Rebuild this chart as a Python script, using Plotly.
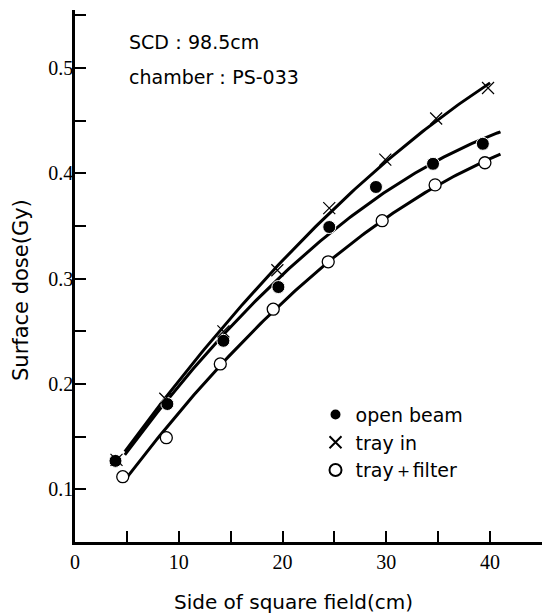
import numpy as np
import plotly.graph_objects as go

# Data
field_open = [3.9, 8.9, 14.3, 19.6, 24.5, 29.0, 34.5, 39.3]
dose_open = [0.127, 0.181, 0.241, 0.292, 0.349, 0.387, 0.409, 0.428]
field_tray = [4.0, 8.7, 14.3, 19.5, 24.5, 29.9, 34.8, 39.8]
dose_tray = [0.128, 0.186, 0.250, 0.308, 0.367, 0.413, 0.452, 0.481]
field_filter = [4.6, 8.8, 14.0, 19.1, 24.4, 29.6, 34.7, 39.5]
dose_filter = [0.112, 0.149, 0.219, 0.271, 0.316, 0.355, 0.389, 0.410]

x_ticks = [0, 10, 20, 30, 40]
y_ticks = [0.1, 0.2, 0.3, 0.4, 0.5]

SANS = "DejaVu Sans"
SERIF = "Liberation Serif"

fig = go.Figure()

def fit_curve(xs, ys, x0, x1, deg=2):
    c = np.polyfit(xs, ys, deg)
    xx = np.linspace(x0, x1, 120)
    return xx, np.polyval(c, xx)

for xs, ys, x1 in [(field_tray, dose_tray, 40.0),
                   (field_open, dose_open, 41.0),
                   (field_filter, dose_filter, 41.0)]:
    xx, yy = fit_curve(xs, ys, 4.8, x1)
    fig.add_trace(go.Scatter(x=xx, y=yy, mode="lines",
                             line=dict(color="black", width=3),
                             showlegend=False, hoverinfo="skip"))

fig.add_trace(go.Scatter(x=field_open, y=dose_open, mode="markers", name="open beam",
                         legendgroup="a",
                         marker=dict(symbol="circle", size=13, color="black",
                                     line=dict(color="white", width=1))))
fig.add_trace(go.Scatter(x=field_tray, y=dose_tray, mode="markers", name="tray in",
                         legendgroup="b",
                         marker=dict(symbol="x-thin", size=12, color="black",
                                     line=dict(color="black", width=1.2))))
fig.add_trace(go.Scatter(x=field_filter, y=dose_filter, mode="markers", name="tray＋filter",
                         legendgroup="c",
                         marker=dict(symbol="circle", size=12, color="white",
                                     line=dict(color="black", width=1.3))))

fig.add_annotation(x=0.111, y=0.94, xref="paper", yref="paper", xanchor="left", yanchor="middle",
                   text="SCD：98.5cm", showarrow=False,
                   font=dict(family=SANS, size=19, color="black"))
fig.add_annotation(x=0.111, y=0.874, xref="paper", yref="paper", xanchor="left", yanchor="middle",
                   text="chamber：PS-033", showarrow=False,
                   font=dict(family=SANS, size=19, color="black"))

# Axis titles placed as text
fig.add_annotation(x=(293 - 75) / 467, y=(542 - 602) / 532, xref="paper", yref="paper",
                   xanchor="center", yanchor="middle", showarrow=False,
                   text="Side of square field(cm)",
                   font=dict(family=SANS, size=20, color="black"))
fig.add_annotation(x=(21 - 75) / 467, y=(542 - 290) / 532, xref="paper", yref="paper",
                   xanchor="center", yanchor="middle", showarrow=False, textangle=-90,
                   text="Surface dose(Gy)",
                   font=dict(family=SANS, size=21, color="black"))

axis_common = dict(showgrid=False, zeroline=False, showline=True, linecolor="black",
                   linewidth=2.5, ticks="inside", ticklen=11, tickwidth=2, tickcolor="black",
                   mirror=False)

fig.update_xaxes(range=[0, 45], tickvals=x_ticks, ticktext=[str(v) for v in x_ticks],
                 minor=dict(dtick=5, tick0=0, ticks="inside", ticklen=11, tickwidth=2,
                            tickcolor="black"),
                 tickfont=dict(family=SERIF, size=20, color="black"),
                 **axis_common)
fig.update_yaxes(range=[0.05, 0.555], tickvals=y_ticks, ticktext=[f"{v:.1f}" for v in y_ticks],
                 minor=dict(dtick=0.05, tick0=0.05, ticks="inside", ticklen=11, tickwidth=2,
                            tickcolor="black"),
                 tickfont=dict(family=SERIF, size=20, color="black"),
                 ticklabelstandoff=-5,
                 **axis_common)

fig.update_layout(
    width=544, height=614,
    margin=dict(l=75, r=2, t=10, b=72),
    paper_bgcolor="white", plot_bgcolor="white",
    legend=dict(x=0.515, y=0.275, xanchor="left", yanchor="top",
                font=dict(family=SANS, size=19, color="black"),
                bgcolor="rgba(0,0,0,0)", tracegroupgap=0, itemsizing="constant"),
)

fig.write_html("out.html")
